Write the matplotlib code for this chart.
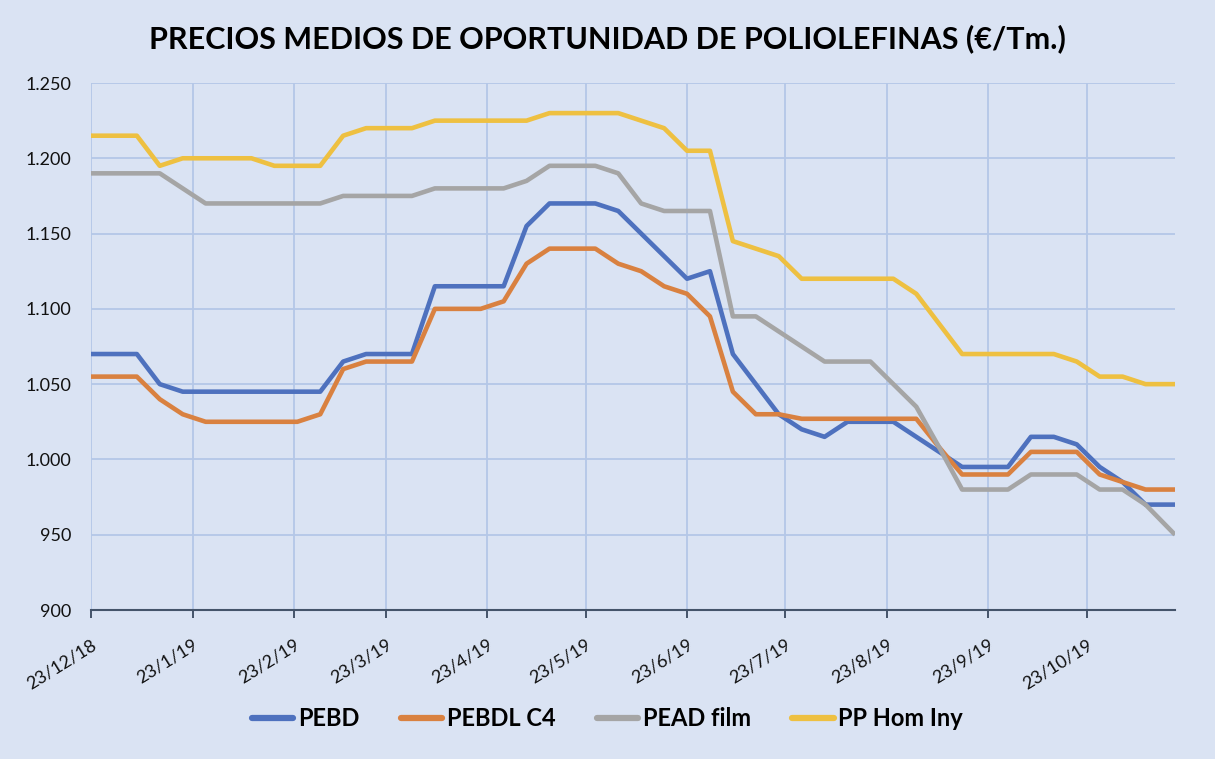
import matplotlib
matplotlib.use("Agg")
import matplotlib.pyplot as plt
import matplotlib.ticker as mticker
import pandas as pd

# ---- data ----
weekly_dates = list(pd.date_range("2018-12-23", periods=47, freq="7D"))
dates = weekly_dates + [pd.Timestamp("2019-11-19")]

pebd = [1070, 1070, 1070, 1050, 1045, 1045, 1045, 1045, 1045, 1045, 1045, 1065,
        1070, 1070, 1070, 1115, 1115, 1115, 1115, 1155, 1170, 1170, 1170, 1165,
        1150, 1135, 1120, 1125, 1070, 1050, 1030, 1020, 1015, 1025, 1025, 1025,
        1015, 1005, 995, 995, 995, 1015, 1015, 1010, 995, 985, 970, 970]

pebdl_c4 = [1055, 1055, 1055, 1040, 1030, 1025, 1025, 1025, 1025, 1025, 1030, 1060,
            1065, 1065, 1065, 1100, 1100, 1100, 1105, 1130, 1140, 1140, 1140, 1130,
            1125, 1115, 1110, 1095, 1045, 1030, 1030, 1027, 1027, 1027, 1027, 1027,
            1027, 1008, 990, 990, 990, 1005, 1005, 1005, 990, 985, 980, 980]

pead_film = [1190, 1190, 1190, 1190, 1180, 1170, 1170, 1170, 1170, 1170, 1170, 1175,
             1175, 1175, 1175, 1180, 1180, 1180, 1180, 1185, 1195, 1195, 1195, 1190,
             1170, 1165, 1165, 1165, 1095, 1095, 1085, 1075, 1065, 1065, 1065, 1050,
             1035, 1008, 980, 980, 980, 990, 990, 990, 980, 980, 970, 950]

pp_hom_iny = [1215, 1215, 1215, 1195, 1200, 1200, 1200, 1200, 1195, 1195, 1195, 1215,
              1220, 1220, 1220, 1225, 1225, 1225, 1225, 1225, 1230, 1230, 1230, 1230,
              1225, 1220, 1205, 1205, 1145, 1140, 1135, 1120, 1120, 1120, 1120, 1120,
              1110, 1090, 1070, 1070, 1070, 1070, 1070, 1065, 1055, 1055, 1050, 1050]

series_names = ["PEBD", "PEBDL C4", "PEAD film", "PP Hom Iny"]
series_values = [pebd, pebdl_c4, pead_film, pp_hom_iny]
series_colors = ["#4E71BE", "#D98140", "#A5A5A5", "#EEC041"]

tick_dates = [pd.Timestamp("2018-12-23")] + [pd.Timestamp(2019, m, 23) for m in range(1, 11)]

y_min, y_max, y_step = 900, 1250, 50
title = "PRECIOS MEDIOS DE OPORTUNIDAD DE POLIOLEFINAS (€/Tm.)"

# ---- style ----
bg = "#DAE3F3"
grid_c = "#B4C7E7"
axis_c = "#44546A"
FONT = ["Lato", "DejaVu Sans"]

fig = plt.figure(figsize=(12.15, 7.59), dpi=100, facecolor=bg)
ax = fig.add_axes([91 / 1215, 1 - 610 / 759, (1175 - 91) / 1215, (610 - 83) / 759])
ax.set_facecolor(bg)

for name, vals, col in zip(series_names, series_values, series_colors):
    ax.plot(dates, vals, color=col, lw=3.3, label=name, solid_joinstyle="round",
            solid_capstyle="butt", zorder=3)

ax.set_xlim(dates[0], dates[-1])
ax.set_ylim(y_min, y_max)
ax.set_yticks(range(y_min, y_max + 1, y_step))
ax.yaxis.set_major_formatter(mticker.FuncFormatter(
    lambda v, p: f"{int(v):,}".replace(",", ".")))
ax.set_xticks(tick_dates)
ax.set_xticklabels([f"{d.day}/{d.month}/{d.strftime('%y')}" for d in tick_dates])

ax.grid(True, color=grid_c, lw=1.3, zorder=0)
for s in ["top", "right", "left"]:
    ax.spines[s].set_visible(False)
ax.spines["bottom"].set_color(axis_c)
ax.spines["bottom"].set_linewidth(1.5)
ax.spines["bottom"].set_zorder(4)

ax.tick_params(axis="y", length=0, pad=14, labelsize=13, labelcolor="#111111")
ax.tick_params(axis="x", length=6, width=1.4, color=axis_c, direction="out",
               pad=13, labelsize=13, labelcolor="#111111")
for lab in ax.get_yticklabels() + ax.get_xticklabels():
    lab.set_family(FONT)
for lab in ax.get_xticklabels():
    lab.set_rotation(32)
    lab.set_ha("right")
    lab.set_rotation_mode("anchor")

fig.text(0.5, 1 - 39 / 759, title, ha="center", va="center", fontsize=22,
         fontweight="bold", family=FONT, color="black")

leg = fig.legend(loc="center", bbox_to_anchor=(0.5, 1 - 719 / 759), ncol=4,
                 frameon=False, handlelength=1.75, handletextpad=0.2,
                 columnspacing=1.75, prop={"family": FONT, "weight": "bold", "size": 17})
for h in leg.get_lines():
    h.set_linewidth(4.5)
    h.set_solid_capstyle("round")

fig.savefig("out.png", dpi=100, facecolor=bg)
